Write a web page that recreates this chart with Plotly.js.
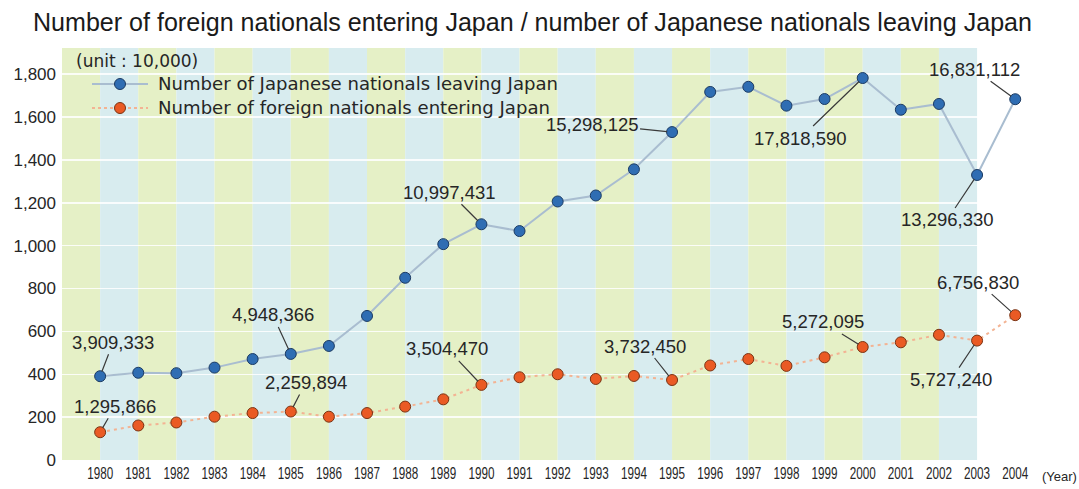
<!DOCTYPE html>
<html>
<head>
<meta charset="utf-8">
<script src="https://cdn.plot.ly/plotly-3.0.1.min.js"></script>
<style>
  html, body { margin: 0; padding: 0; background: #ffffff; }
  #chart { width: 1079px; height: 489px; }
</style>
</head>
<body>
<div id="chart"></div>
<script>
// ---- data (units of 10,000 people) ----
const years = [1980,1981,1982,1983,1984,1985,1986,1987,1988,1989,1990,1991,1992,1993,1994,1995,1996,1997,1998,1999,2000,2001,2002,2003,2004];
const japaneseLeaving = [390.9,407,405,431,471,494.8,532,672,850,1007,1099.7,1068,1206,1234,1356,1529.8,1717,1741,1653,1684,1781.9,1634,1661,1329.6,1683.1];
const foreignEntering = [129.6,161,175,202,219,226.0,202,219,249,283,350.4,386,400,378,392,373.2,441,471,439,479,527.2,549,584,557,675.7];
const seriesNames = ["Number of Japanese nationals leaving Japan", "Number of foreign nationals entering Japan"];
const yTickVals = [0,200,400,600,800,1000,1200,1400,1600,1800];
const yTickText = ["0","200","400","600","800","1,000","1,200","1,400","1,600","1,800"];
const xTickText = years.map(String);

// labelled points: year, series index, label text
const labelYears  = [1980, 1985, 1990, 1995, 2000, 2003, 2004, 1980, 1985, 1990, 1995, 2000, 2003, 2004];
const labelSeries = [0, 0, 0, 0, 0, 0, 0, 1, 1, 1, 1, 1, 1, 1];
const labelTexts  = ["3,909,333","4,948,366","10,997,431","15,298,125","17,818,590","13,296,330","16,831,112",
                     "1,295,866","2,259,894","3,504,470","3,732,450","5,272,095","5,727,240","6,756,830"];
// label offsets in pixels (layout only)
const labelOffsets = [[13,-34],[-18,-39],[-32,-32],[-80,-8],[-62,60],[-30,45],[-41,-30],
                      [15,-26],[15,-29],[-34,-36],[-27,-34],[-40,-25],[-26,39],[-37,-33]];

// ---- layout helpers ----
const PL = 62, PW = 978, PB = 460, PH = 412;          // plot box in pixels
const px = v => (v - PL) / PW;                         // pixel -> paper x
const py = v => (PB - v) / PH;                         // pixel -> paper y

const green = "#e5f0c6", blue = "#d8ecef";
const colors = {blueLine:"#a9bdd0", blueMark:"#2f6db3", blueEdge:"#1c3b63",
                orLine:"#f3b393", orMark:"#ea5a24", orEdge:"#7a3414"};
const shapes = [];
for (let k = 1979; k < 2003; k++) {
  shapes.push({type:"rect", xref:"x", yref:"paper", x0:k, x1:k+1, y0:0, y1:1,
               fillcolor: (k % 2 === 1) ? green : blue, line:{width:0}, layer:"below"});
}

const seriesData = [japaneseLeaving, foreignEntering];
const annotations = labelTexts.map((t, i) => {
  const yr = labelYears[i];
  const s = labelSeries[i];
  const v = seriesData[s][years.indexOf(yr)];
  return {x: yr, y: v, xref:"x", yref:"y", text: t, showarrow: true, arrowhead: 0,
          arrowwidth: 1.2, arrowcolor: "#3a3a3a", ax: labelOffsets[i][0], ay: labelOffsets[i][1],
          standoff: 5, startstandoff: 0,
          font: {family: "Liberation Sans, Arial, sans-serif", size: 18.5, color: "#262626"}};
});
const legendFont = {family:"DejaVu Sans, Verdana, sans-serif", size:17, color:"#262626"};
annotations.push({xref:"paper", yref:"paper", x:px(74), y:py(61), xanchor:"left", yanchor:"middle",
  text:"(unit : 10,000)", showarrow:false, font: legendFont});
annotations.push({xref:"paper", yref:"paper", x:px(1040), y:py(476), xanchor:"left", yanchor:"middle",
  text:"(Year)", showarrow:false,
  font:{family:"Liberation Sans, Arial, sans-serif", size:13, color:"#262626"}});

// manual legend (two rows)
const legendRows = [
  {y:84, line:colors.blueLine, dash:"solid", fill:colors.blueMark, edge:colors.blueEdge},
  {y:108, line:colors.orLine, dash:"dot", fill:colors.orMark, edge:colors.orEdge}
];
legendRows.forEach((r, i) => {
  shapes.push({type:"line", xref:"paper", yref:"paper", x0:px(92), x1:px(148), y0:py(r.y), y1:py(r.y),
               line:{color:r.line, width:2, dash:r.dash}, layer:"above"});
  shapes.push({type:"circle", xref:"paper", yref:"paper", xsizemode:"pixel", ysizemode:"pixel",
               xanchor:px(120), yanchor:py(r.y), x0:-5.5, x1:5.5, y0:-5.5, y1:5.5,
               fillcolor:r.fill, line:{color:r.edge, width:1}, layer:"above"});
  annotations.push({xref:"paper", yref:"paper", x:px(156), y:py(r.y), xanchor:"left", yanchor:"middle",
    text: seriesNames[i], showarrow:false, font: legendFont});
});

const traces = [
  {x: years, y: japaneseLeaving, name: seriesNames[0], type:"scatter", mode:"lines+markers",
   line:{color:colors.blueLine, width:2},
   marker:{size:11, color:colors.blueMark, line:{color:colors.blueEdge, width:1}}},
  {x: years, y: foreignEntering, name: seriesNames[1], type:"scatter", mode:"lines+markers",
   line:{color:colors.orLine, width:2, dash:"3px,4px"},
   marker:{size:11, color:colors.orMark, line:{color:colors.orEdge, width:1}}}
];

const layout = {
  width: 1079, height: 489,
  margin: {l:PL, r:1079-PL-PW, t:PB-PH, b:489-PB},
  paper_bgcolor: "#ffffff", plot_bgcolor: "#ffffff",
  title: {text: "Number of foreign nationals entering Japan / number of Japanese nationals leaving Japan",
          x: 0.4935, xanchor:"center", y: 1 - 22/489, yanchor:"middle",
          font: {family:"Liberation Sans, Arial, sans-serif", size: 26, color:"#1a1a1a"}},
  xaxis: {range:[1979, 2004.65], tickmode:"array", tickvals: years, ticktext: xTickText,
          showgrid:false, zeroline:false, showline:false, ticks:"", ticklabelstandoff: 2,
          tickfont:{family:"Liberation Sans, Arial, sans-serif", size:16, color:"#262626"}},
  yaxis: {range:[0, 1922], tickmode:"array", tickvals: yTickVals, ticktext: yTickText,
          showgrid:true, gridcolor:"rgba(255,255,255,0.85)", gridwidth:1.5,
          zeroline:false, showline:false, ticks:"", ticklabelstandoff: 5,
          tickfont:{family:"Liberation Sans, Arial, sans-serif", size:17, color:"#262626"}},
  shapes: shapes,
  annotations: annotations,
  showlegend: false
};

Plotly.newPlot("chart", traces, layout, {displayModeBar:false, staticPlot:true}).then(gd => {
  // condense the title horizontally (like the narrow face of the original)
  const t = gd.querySelector(".gtitle");
  if (t) { t.setAttribute("textLength", "999"); t.setAttribute("lengthAdjust", "spacingAndGlyphs"); }
  // condense x tick labels (narrow face in the original)
  gd.querySelectorAll(".xtick text").forEach(el => {
    el.setAttribute("textLength", "26"); el.setAttribute("lengthAdjust", "spacingAndGlyphs");
  });
  // widen the legend texts slightly (wide face in the original), keeping the left edge fixed
  gd.querySelectorAll(".annotation-text").forEach(el => {
    const s = el.textContent;
    if (s === seriesNames[0] || s === seriesNames[1]) {
      const w = el.getComputedTextLength();
      const cx = parseFloat(el.getAttribute("x"));
      el.setAttribute("text-anchor", "start");
      el.setAttribute("x", String(cx - w / 2));
      el.querySelectorAll("tspan").forEach(ts => {
        if (ts.getAttribute("x") !== null) ts.setAttribute("x", String(cx - w / 2));
      });
      el.setAttribute("textLength", String(Math.round(w * 1.065)));
      el.setAttribute("lengthAdjust", "spacingAndGlyphs");
    }
  });
});
</script>
</body>
</html>
